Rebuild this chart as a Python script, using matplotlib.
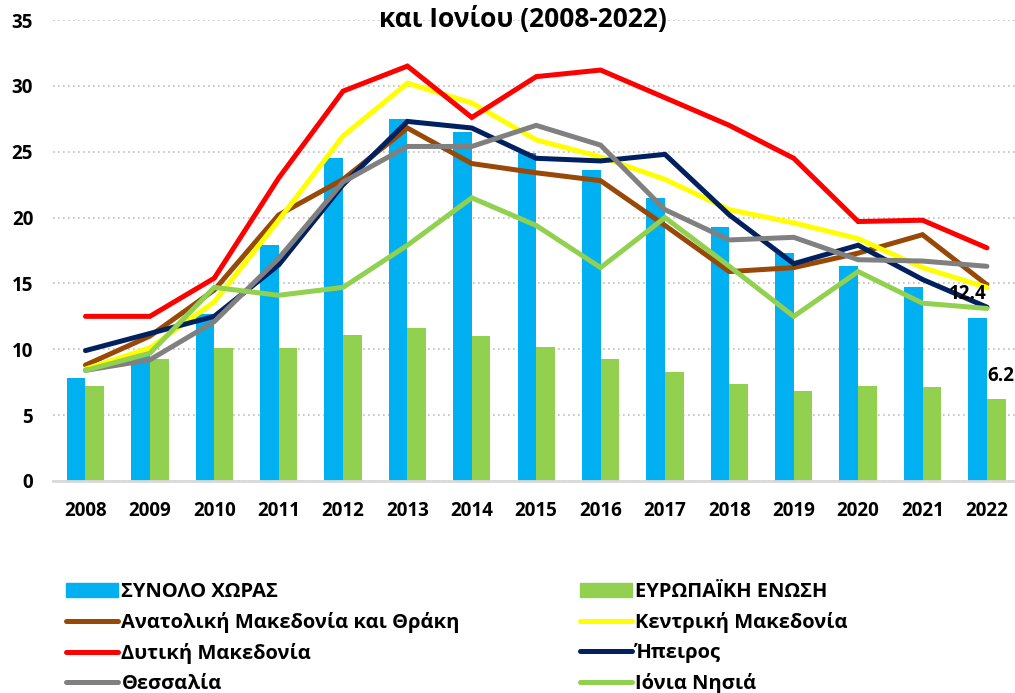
import matplotlib
matplotlib.use("Agg")
import matplotlib.pyplot as plt
import numpy as np
from matplotlib.patches import Patch
from matplotlib import font_manager as fm

# pick a family that really has a bold face with Greek support
fam = 'DejaVu Sans'
for cand in ['Open Sans', 'Noto Sans', 'Roboto', 'Liberation Sans']:
    try:
        p = fm.findfont(fm.FontProperties(family=cand, weight='bold'), fallback_to_default=False)
        f = fm.get_font(p)
        if 'bold' in (f.style_name or '').lower():
            fam = cand
            break
    except Exception:
        pass
plt.rcParams['font.family'] = [fam, 'DejaVu Sans']

years = ['2008', '2009', '2010', '2011', '2012', '2013', '2014', '2015',
         '2016', '2017', '2018', '2019', '2020', '2021', '2022']

greece = [7.8, 9.6, 12.7, 17.9, 24.5, 27.5, 26.5, 24.9, 23.6, 21.5, 19.3, 17.3, 16.3, 14.7, 12.4]
eu = [7.2, 9.3, 10.1, 10.1, 11.1, 11.6, 11.0, 10.2, 9.3, 8.3, 7.4, 6.8, 7.2, 7.1, 6.2]

anat_makedonia = [8.8, 11.0, 14.5, 20.2, 22.9, 26.8, 24.1, 23.4, 22.8, 19.4, 15.9, 16.2, 17.3, 18.7, 14.9]
kentr_makedonia = [8.5, 10.1, 13.6, 19.8, 26.2, 30.2, 28.7, 25.9, 24.6, 22.9, 20.6, 19.6, 18.4, 16.2, 14.7]
dyt_makedonia = [12.5, 12.5, 15.4, 23.0, 29.6, 31.5, 27.6, 30.7, 31.2, 29.1, 27.0, 24.5, 19.7, 19.8, 17.7]
ipeiros = [9.9, 11.2, 12.5, 16.4, 22.5, 27.3, 26.8, 24.5, 24.3, 24.8, 20.2, 16.5, 17.9, 15.3, 13.2]
thessalia = [8.4, 9.2, 12.1, 16.9, 22.7, 25.4, 25.4, 27.0, 25.5, 20.6, 18.3, 18.5, 16.8, 16.7, 16.3]
ionia = [8.4, 9.7, 14.7, 14.1, 14.7, 17.9, 21.5, 19.4, 16.2, 20.0, 16.3, 12.5, 15.9, 13.5, 13.1]

bar_labels = ['ΣΥΝΟΛΟ ΧΩΡΑΣ', 'ΕΥΡΩΠΑΪΚΗ ΕΝΩΣΗ']
line_labels = ['Ανατολική Μακεδονία και Θράκη', 'Κεντρική Μακεδονία', 'Δυτική Μακεδονία',
               'Ήπειρος', 'Θεσσαλία', 'Ιόνια Νησιά']
title = 'και Ιονίου (2008-2022)'

bar_colors = ['#00B0F0', '#92D050']
line_colors = ['#984807', '#FFFF00', '#FF0000', '#002060', '#808080', '#92D050']

W, H = 1015, 693
fig = plt.figure(figsize=(W / 100, H / 100), dpi=100)
ax = fig.add_axes([53.3 / W, (H - 481) / H, 965.8 / W, 461 / H])

x = np.arange(len(years))
bw = 0.29
ax.bar(x - bw / 2, greece, bw, color=bar_colors[0], zorder=2)
ax.bar(x + bw / 2, eu, bw, color=bar_colors[1], zorder=2)

series = [anat_makedonia, kentr_makedonia, dyt_makedonia, ipeiros, thessalia, ionia]
lines = []
for s, c in zip(series, line_colors):
    l, = ax.plot(x, s, color=c, lw=3.6, zorder=3, solid_capstyle='round', solid_joinstyle='miter')
    lines.append(l)

ax.set_xlim(-0.5, len(years) - 0.5)
ax.set_ylim(0, 35)
ax.set_yticks(np.arange(0, 36, 5))
ax.set_xticks(x)
ax.set_xticklabels(years)
ax.yaxis.grid(True, linestyle=(0, (1, 2)), color='#BFBFBF', lw=1.2, zorder=0)
ax.set_axisbelow(True)
for sp in ['left', 'right', 'top']:
    ax.spines[sp].set_visible(False)
ax.spines['bottom'].set_color('#D9D9D9')
ax.spines['bottom'].set_linewidth(2)
ax.tick_params(axis='both', length=0, labelsize=13.5)
ax.tick_params(axis='x', pad=14.5)
ax.tick_params(axis='y', pad=14.5)
for t in ax.get_xticklabels() + ax.get_yticklabels():
    t.set_fontweight('bold')

ax.annotate(f'{greece[-1]:.1f}', xy=(x[-1] - bw / 2, greece[-1]), xytext=(-10, 24),
            textcoords='offset pixels', ha='center', va='center', fontsize=13.5,
            fontweight='bold', zorder=5)
ax.annotate(f'{eu[-1]:.1f}', xy=(x[-1] + bw / 2, eu[-1]), xytext=(5, 23),
            textcoords='offset pixels', ha='center', va='center', fontsize=13.5,
            fontweight='bold', zorder=5)

fig.text(523 / W, 1 - 19 / H, title, ha='center', va='center', fontsize=19, fontweight='bold')

col1_h = [Patch(color=bar_colors[0]), lines[0], lines[2], lines[4]]
col1_l = [bar_labels[0], line_labels[0], line_labels[2], line_labels[4]]
col2_h = [Patch(color=bar_colors[1]), lines[1], lines[3], lines[5]]
col2_l = [bar_labels[1], line_labels[1], line_labels[3], line_labels[5]]

common = dict(frameon=False, handlelength=2.6, handleheight=0.7, handletextpad=0.15,
              labelspacing=0.5, borderpad=0, borderaxespad=0,
              prop={'size': 14.5, 'weight': 'bold'}, loc='upper left')
fig.legend(col1_h, col1_l, bbox_to_anchor=(66 / W, 1 - 582 / H), **common)
fig.legend(col2_h, col2_l, bbox_to_anchor=(580 / W, 1 - 582 / H), **common)

fig.savefig('out.png', dpi=100)
